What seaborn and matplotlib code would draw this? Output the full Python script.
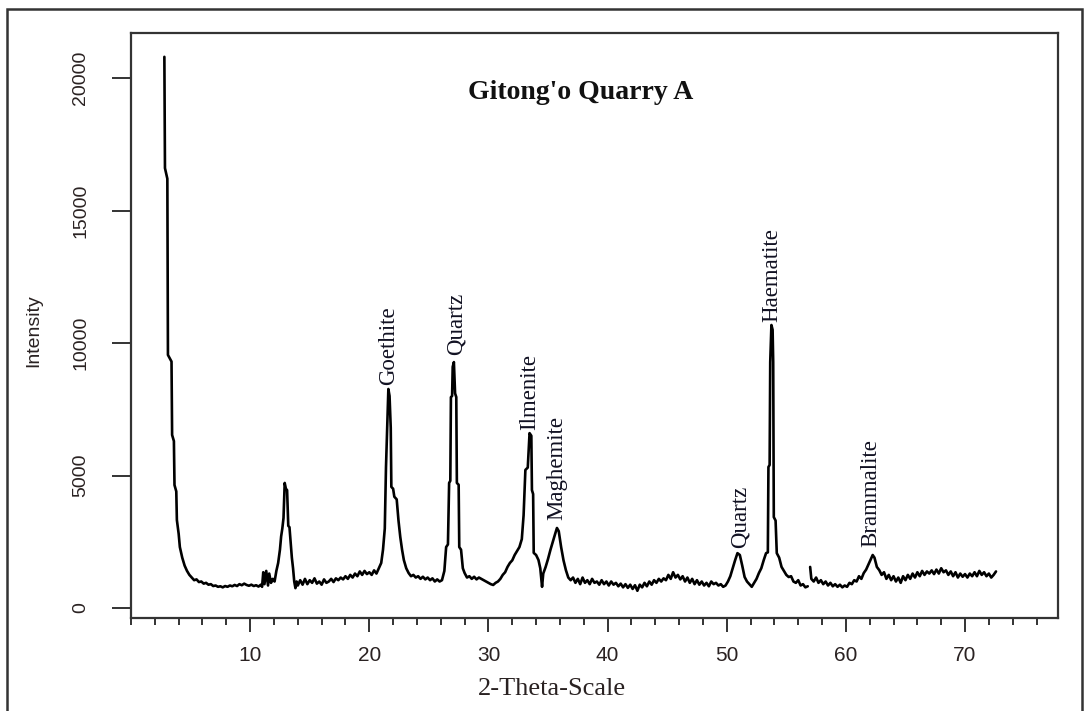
import numpy as np
import pandas as pd
import seaborn as sns
import matplotlib.pyplot as plt
from matplotlib.ticker import MultipleLocator
from matplotlib.patches import Rectangle

# =========================
# DATA
# =========================

two_theta = [
    2.8, 2.85, 3.05, 3.1, 3.4, 3.45, 3.6, 3.65, 3.8, 3.85,
    4.0, 4.1, 4.3, 4.5, 4.7, 4.9, 5.1, 5.3, 5.5, 5.7,
    5.9, 6.1, 6.3, 6.5, 6.7, 6.9, 7.1, 7.3, 7.5, 7.7,
    7.9, 8.1, 8.3, 8.5, 8.7, 8.9, 9.1, 9.3, 9.5, 9.7,
    9.9, 10.1, 10.3, 10.5, 10.7, 10.9, 11.0, 11.1, 11.2, 11.35,
    11.5, 11.6, 11.75, 11.9, 12.05, 12.2, 12.35, 12.5, 12.6, 12.7,
    12.8, 12.9, 13.0, 13.1, 13.2, 13.3, 13.4, 13.5, 13.6, 13.7,
    13.8, 13.9, 14.0, 14.2, 14.4, 14.6, 14.8, 15.0, 15.2, 15.4,
    15.6, 15.8, 16.0, 16.2, 16.4, 16.6, 16.8, 17.0, 17.2, 17.4,
    17.6, 17.8, 18.0, 18.2, 18.4, 18.6, 18.8, 19.0, 19.2, 19.4,
    19.6, 19.8, 20.0, 20.2, 20.4, 20.6, 20.8, 21.0, 21.15, 21.3,
    21.4, 21.5, 21.6, 21.7, 21.8, 21.85, 22.0, 22.1, 22.3, 22.45,
    22.6, 22.75, 22.9, 23.1, 23.3, 23.5, 23.7, 23.9, 24.1, 24.3,
    24.5, 24.7, 24.9, 25.1, 25.3, 25.5, 25.7, 25.9, 26.1, 26.3,
    26.45, 26.6, 26.7, 26.8, 26.85, 26.95, 27.0, 27.1, 27.2, 27.3,
    27.35, 27.5, 27.55, 27.7, 27.85, 28.0, 28.2, 28.4, 28.6, 28.8,
    29.0, 29.2, 29.4, 29.6, 29.8, 30.0, 30.2, 30.4, 30.6, 30.8,
    31.0, 31.2, 31.4, 31.6, 31.8, 32.0, 32.2, 32.4, 32.6, 32.8,
    32.95, 33.1, 33.3, 33.45, 33.6, 33.65, 33.75, 33.8, 34.0, 34.2,
    34.35, 34.5, 34.6, 34.8, 35.0, 35.2, 35.4, 35.6, 35.75, 35.9,
    36.1, 36.3, 36.5, 36.7, 36.9, 37.1, 37.3, 37.5, 37.7, 37.9,
    38.1, 38.3, 38.5, 38.7, 38.9, 39.1, 39.3, 39.5, 39.7, 39.9,
    40.1, 40.3, 40.5, 40.7, 40.9, 41.1, 41.3, 41.5, 41.7, 41.9,
    42.1, 42.3, 42.5, 42.7, 42.9, 43.1, 43.3, 43.5, 43.7, 43.9,
    44.1, 44.3, 44.5, 44.7, 44.9, 45.1, 45.3, 45.5, 45.7, 45.9,
    46.1, 46.3, 46.5, 46.7, 46.9, 47.1, 47.3, 47.5, 47.7, 47.9,
    48.1, 48.3, 48.5, 48.7, 48.9, 49.1, 49.3, 49.5, 49.7, 49.9,
    50.1, 50.3, 50.5, 50.7, 50.9, 51.1, 51.3, 51.5, 51.7, 51.9,
    52.1, 52.3, 52.5, 52.7, 52.9, 53.1, 53.3, 53.45, 53.5, 53.6,
    53.65, 53.75, 53.85, 53.9, 53.95, 54.1, 54.2, 54.4, 54.6, 54.8,
    55.0, 55.2, 55.4, 55.6, 55.8, 56.0, 56.2, 56.4, 56.6, 56.8,
    57.0, 57.1, 57.3, 57.5, 57.7, 57.9, 58.1, 58.3, 58.5,
    58.7, 58.9, 59.1, 59.3, 59.5, 59.7, 59.9, 60.1, 60.3, 60.5,
    60.7, 60.9, 61.1, 61.3, 61.5, 61.7, 61.9, 62.1, 62.25, 62.4,
    62.6, 62.8, 63.0, 63.2, 63.4, 63.6, 63.8, 64.0, 64.2, 64.4,
    64.6, 64.8, 65.0, 65.2, 65.4, 65.6, 65.8, 66.0, 66.2, 66.4,
    66.6, 66.8, 67.0, 67.2, 67.4, 67.6, 67.8, 68.0, 68.2, 68.4,
    68.6, 68.8, 69.0, 69.2, 69.4, 69.6, 69.8, 70.0, 70.2, 70.4,
    70.6, 70.8, 71.0, 71.2, 71.4, 71.6, 71.8, 72.0, 72.2, 72.4,
    72.6,
]

intensity = [
    20800, 16600, 16200, 9550, 9300, 6530, 6300, 4640, 4400, 3320,
    2800, 2300, 1900, 1600, 1400, 1250, 1150, 1050, 1080, 980,
    1000, 920, 950, 880, 900, 830, 850, 800, 820, 780,
    830, 800, 850, 820, 870, 830, 900, 860, 920, 870,
    840, 880, 830, 860, 810, 880, 800, 1350, 900, 1400,
    850, 1300, 950, 1100, 1000, 1400, 1700, 2200, 2700, 3000,
    3400, 4720, 4500, 4450, 3100, 3050, 2500, 1900, 1500, 1000,
    750, 1000, 850, 1050, 880, 1100, 900, 1050, 950, 1120,
    920, 1000, 880, 1080, 950, 1000, 1100, 980, 1120, 1050,
    1150, 1080, 1200, 1100, 1250, 1150, 1300, 1200, 1380, 1250,
    1400, 1280, 1350, 1250, 1420, 1300, 1500, 1700, 2200, 3000,
    5300, 6800, 8265, 8000, 6800, 4570, 4500, 4200, 4100, 3300,
    2680, 2200, 1810, 1500, 1320, 1200, 1250, 1150, 1200, 1100,
    1180, 1080, 1150, 1050, 1120, 1000, 1080, 1000, 1050, 1400,
    2300, 2400, 4720, 4800, 7960, 8000, 9100, 9280, 8100, 7960,
    4720, 4650, 2300, 2200, 1500, 1320, 1150, 1200, 1100, 1180,
    1080, 1150, 1100, 1050, 1000, 950, 900, 870, 950, 1000,
    1100, 1250, 1350, 1550, 1700, 1800, 2000, 2150, 2300, 2600,
    3500, 5210, 5300, 6600, 6500, 4450, 4300, 2080, 2000, 1810,
    1500, 800, 1300, 1550, 1850, 2190, 2500, 2800, 3020, 2900,
    2300, 1800, 1430, 1150, 1050, 1150, 950, 1100, 900, 1150,
    950, 1050, 900, 1100, 950, 1000, 880, 1050, 900, 1000,
    850, 1000, 880, 950, 820, 920, 780, 900, 760, 880,
    720, 860, 650, 880, 780, 950, 820, 1000, 880, 1050,
    950, 1100, 1000, 1120, 1050, 1250, 1100, 1350, 1150, 1250,
    1080, 1200, 1000, 1150, 950, 1100, 900, 1050, 880, 1000,
    850, 950, 820, 1000, 900, 950, 850, 900, 800, 850,
    1000, 1200, 1500, 1800, 2070, 2000, 1600, 1170, 1000, 900,
    800, 950, 1100, 1320, 1500, 1800, 2070, 2100, 5320, 5400,
    9280, 10680, 10500, 9280, 3430, 3300, 2070, 1900, 1550, 1400,
    1250, 1170, 1200, 1000, 950, 1050, 850, 900, 780, 820,
    1550, 1100, 1000, 1150, 950, 1050, 900, 1000, 850,
    950, 820, 900, 800, 880, 780, 850, 800, 950, 900,
    1050, 1000, 1200, 1100, 1320, 1450, 1650, 1850, 2000, 1900,
    1550, 1430, 1250, 1350, 1100, 1250, 1050, 1200, 1000, 1150,
    950, 1200, 1050, 1250, 1100, 1300, 1150, 1350, 1200, 1400,
    1250, 1380, 1300, 1420, 1280, 1450, 1300, 1500, 1350, 1420,
    1250, 1380, 1200, 1350, 1150, 1300, 1180, 1280, 1150, 1300,
    1200, 1350, 1200, 1400, 1250, 1350, 1200, 1300, 1150, 1250,
    1380,
]

# the recorded trace has a break around 56.9 degrees
gap_at = 56.9

peak_names = ['Goethite', 'Quartz', 'Ilmenite', 'Maghemite', 'Quartz', 'Haematite', 'Brammalite']
peak_x = [21.6, 27.3, 33.5, 35.7, 51.1, 53.8, 62.1]
peak_y = [8420, 9550, 6700, 3320, 2260, 10800, 2300]

assert len(two_theta) == len(intensity)

df = pd.DataFrame({'two_theta': two_theta, 'intensity': intensity})
df['trecho'] = np.where(df['two_theta'] < gap_at, 'a', 'b')

# =========================
# PLOT
# =========================

sns.set_style('ticks')
plt.rcParams['font.family'] = ['Liberation Sans', 'DejaVu Sans']

fig = plt.figure(figsize=(10.89, 7.11), dpi=100)
ax = fig.add_axes([0.1203, 0.1308, 0.8512, 0.8228])

sns.lineplot(
    data=df,
    x='two_theta',
    y='intensity',
    units='trecho',
    estimator=None,
    sort=False,
    color='black',
    linewidth=1.9,
    ax=ax
)

# peak labels
for nome, px, py in zip(peak_names, peak_x, peak_y):
    ax.text(px, py, nome, rotation=90, ha='center', va='bottom',
            fontsize=16.5, family='Liberation Serif', color='#111122')

ax.text(37.7, 19440, "Gitong'o Quarry A", ha='center', va='center',
        fontsize=20, fontweight='bold', family='Liberation Serif', color='#111111')

ax.set_xlim(0, 77.8)
ax.set_ylim(-377, 21700)

ax.set_xticks([10, 20, 30, 40, 50, 60, 70])
ax.xaxis.set_minor_locator(MultipleLocator(2))
ax.set_yticks([0, 5000, 10000, 15000, 20000])

ax.tick_params(axis='x', which='major', direction='out', length=10, width=1.4,
               colors='#333333', labelsize=15, pad=10, labelcolor='#2a2222')
ax.tick_params(axis='x', which='minor', direction='out', length=5, width=1.4,
               colors='#333333')
ax.tick_params(axis='y', which='major', direction='out', length=14, width=1.4,
               colors='#333333', labelsize=14, pad=16, labelcolor='#2a2222',
               labelrotation=90)
for lab in ax.get_yticklabels():
    lab.set_va('center')

for s in ax.spines.values():
    s.set_visible(True)
    s.set_linewidth(1.6)
    s.set_color('#333333')

ax.set_xlabel('2-Theta-Scale', fontsize=19, family='Liberation Serif', color='#2a2222')
ax.xaxis.set_label_coords(0.454, -0.102)
ax.set_ylabel('')
ax.text(-0.1046, 0.492, 'Intensity', transform=ax.transAxes, rotation=90,
        ha='center', va='center', fontsize=14, color='#2a2222')

# moldura externa
fig.patches.append(Rectangle((7 / 1089, -0.02), 1075 / 1089, 1 - 9 / 711 + 0.02,
                             transform=fig.transFigure, fill=False,
                             edgecolor='#333333', linewidth=1.8))

plt.savefig('out.png', dpi=100)
